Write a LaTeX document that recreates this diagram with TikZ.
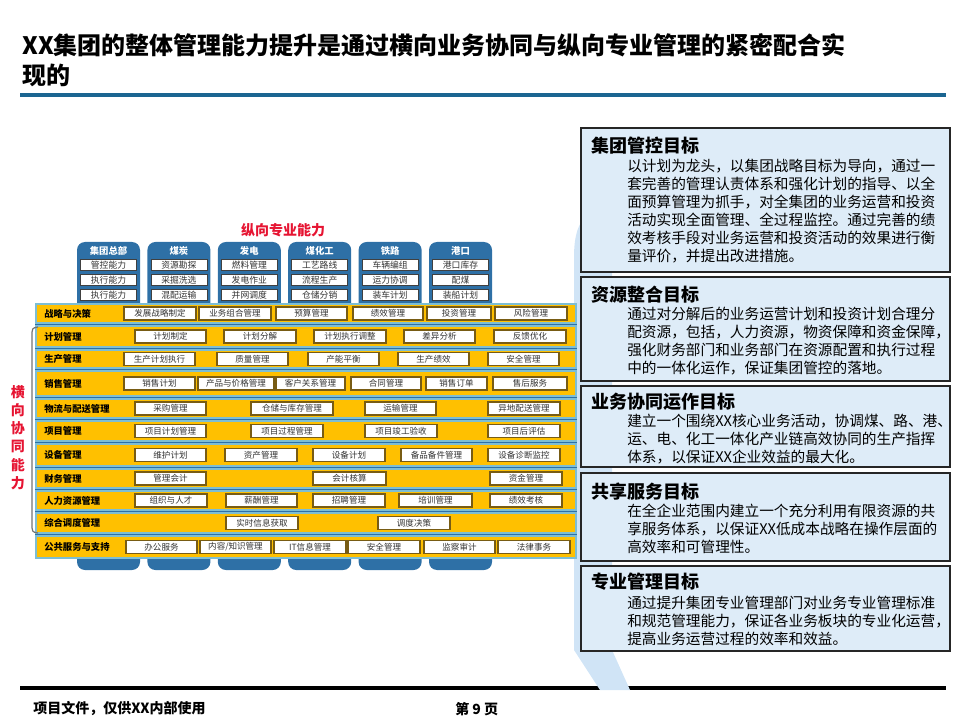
\documentclass[tikz,border=0pt]{standalone}
\usepackage{fontspec}
\setmainfont{Noto Sans CJK SC}
\definecolor{colblue}{RGB}{46,112,166}
\definecolor{amber}{RGB}{255,192,0}
\definecolor{rowedge}{RGB}{125,190,212}
\definecolor{celledge}{RGB}{120,92,20}
\definecolor{goalfill}{RGB}{222,236,248}
\definecolor{bgshape}{RGB}{208,228,246}
\definecolor{rulblue}{RGB}{27,101,145}
\definecolor{redtxt}{RGB}{230,20,50}
\newcommand\mkcell[5]{\pgfmathsetmacro\cw{(#3-#2)*0.75}\pgfmathsetmacro\cxx{(#2+#3)/2}\node[cell, minimum width=\cw pt] (#1) at (\cxx,#4) {#5};}
\newcommand\mkrow[4]{\draw[rowbar] (36,#2) rectangle (576,#3);\pgfmathsetmacro\cyy{(#2+#3)/2}\node[rowlabel] (#1) at (44,\cyy) {#4};}
\newcommand\goallines[3]{\foreach \t [count=\k from 0] in {#3} {\node[goalbody] (#1\k) at (627,{#2+18*\k}) {\t};}}
\begin{document}
\begin{tikzpicture}[x=0.75pt,y=-0.75pt,
  hdr/.style={anchor=west, inner sep=0, font=\bfseries\fontsize{18}{20}\selectfont},
  foot/.style={anchor=west, inner sep=0, font=\bfseries\fontsize{10.5}{12}\selectfont},
  colhead/.style={inner sep=0, text=white, font=\bfseries\fontsize{7}{8}\selectfont},
  subcell/.style={draw=black!75, fill=white, line width=0.6pt, minimum width=42pt, minimum height=8.25pt, inner sep=0, font=\fontsize{6.6}{7}\selectfont, text=black!80},
  rowbar/.style={fill=amber, draw=rowedge, line width=1pt},
  rowlabel/.style={anchor=west, inner sep=0, font=\bfseries\fontsize{7}{8}\selectfont},
  cell/.style={draw=celledge, fill=white, line width=0.8pt, minimum height=9.75pt, inner sep=0, font=\fontsize{6.4}{7}\selectfont, text=black!80},
  goal/.style={draw=black!85, fill=goalfill, line width=0.8pt},
  goaltitle/.style={anchor=west, inner sep=0, font=\bfseries\fontsize{13.5}{16}\selectfont},
  goalbody/.style={anchor=west, inner sep=0, font=\fontsize{11}{13}\selectfont},
  redlab/.style={inner sep=0, text=redtxt, font=\bfseries\fontsize{10.5}{12}\selectfont},
  bracket/.style={draw=black!55, line width=0.9pt}
]
\useasboundingbox (0,0) rectangle (960,720);
% header
\node[hdr] (t1) at (22,45) {XX集团的整体管理能力提升是通过横向业务协同与纵向专业管理的紧密配合实};
\node[hdr] (t2) at (22,75) {现的};
\fill[rulblue] (20,93) rectangle (946,97);
% footer
\fill[black] (20,686) rectangle (946,690);
\node[foot] (f1) at (33,709) {项目文件，仅供XX内部使用};
\node[foot] (f2) at (455,709) {第 9 页};

% background light shape behind goal boxes
\fill[bgshape] (592,212) .. controls (578,220) and (574,235) .. (574,258) -- (574,650) -- (600,690) -- (630,690) -- (612,650) -- (612,258) -- (640,212) -- cycle;

% vertical label
\node[redlab] (vlab) at (283,230) {纵向专业能力};

% columns
\foreach \n/\h/\a/\b/\c [count=\i from 0] in {jt/集团总部/管控能力/执行能力/执行能力, mt/煤炭/资源勘探/采掘洗选/混配运输, fd/发电/燃料管理/发电作业/并网调度, mh/煤化工/工艺路线/流程生产/仓储分销, tl/铁路/车辆编组/运力协调/装车计划, gk/港口/港口库存/配煤/装船计划}{
  \pgfmathsetmacro\cx{77+70.4*\i+31.5}
  \fill[colblue, rounded corners=6pt] ({\cx-31.5},242) rectangle ({\cx+31.5},570);
  \node[colhead] (\n h) at (\cx,251) {\h};
  \node[subcell] (\n a) at (\cx,265) {\a};
  \node[subcell] (\n b) at (\cx,280) {\b};
  \node[subcell] (\n c) at (\cx,295) {\c};
}

% backing strip behind rows
\fill[colblue] (35,320) rectangle (577,558);

% rows
\mkrow{r1}{304}{323}{战略与决策}
\mkcell{r1a}{124}{196}{313.5}{发展战略制定}
\mkcell{r1b}{199}{271}{313.5}{业务组合管理}
\mkcell{r1c}{276}{347}{313.5}{预算管理}
\mkcell{r1d}{353}{423}{313.5}{绩效管理}
\mkcell{r1e}{427}{491}{313.5}{投资管理}
\mkcell{r1f}{495}{567}{313.5}{风险管理}

\mkrow{r2}{326}{347}{计划管理}
\mkcell{r2a}{135}{206}{336.5}{计划制定}
\mkcell{r2b}{224}{296}{336.5}{计划分解}
\mkcell{r2c}{314}{386}{336.5}{计划执行调整}
\mkcell{r2d}{404}{475}{336.5}{差异分析}
\mkcell{r2e}{494}{566}{336.5}{反馈优化}

\mkrow{r3}{350}{368}{生产管理}
\mkcell{r3a}{124}{195}{359}{生产计划执行}
\mkcell{r3b}{217}{288}{359}{质量管理}
\mkcell{r3c}{308}{379}{359}{产能平衡}
\mkcell{r3d}{398}{469}{359}{生产绩效}
\mkcell{r3e}{488}{559}{359}{安全管理}

\mkrow{r4}{371}{396}{销售管理}
\mkcell{r4a}{124}{195}{383.5}{销售计划}
\mkcell{r4b}{198}{274}{383.5}{产品与价格管理}
\mkcell{r4c}{276}{345}{383.5}{客户关系管理}
\mkcell{r4d}{351}{421}{383.5}{合同管理}
\mkcell{r4e}{426}{487}{383.5}{销售订单}
\mkcell{r4f}{493}{567}{383.5}{售后服务}

\mkrow{r5}{399}{418}{物流与配送管理}
\mkcell{r5a}{135}{206}{408.5}{采购管理}
\mkcell{r5b}{251}{333}{408.5}{仓储与库存管理}
\mkcell{r5c}{365}{436}{408.5}{运输管理}
\mkcell{r5d}{488}{560}{408.5}{异地配送管理}

\mkrow{r6}{421}{441}{项目管理}
\mkcell{r6a}{135}{206}{431}{项目计划管理}
\mkcell{r6b}{251}{323}{431}{项目过程管理}
\mkcell{r6c}{365}{437}{431}{项目竣工验收}
\mkcell{r6d}{488}{560}{431}{项目后评估}

\mkrow{r7}{444}{466}{设备管理}
\mkcell{r7a}{135}{206}{455}{维护计划}
\mkcell{r7b}{225}{297}{455}{资产管理}
\mkcell{r7c}{313}{385}{455}{设备计划}
\mkcell{r7d}{401}{472}{455}{备品备件管理}
\mkcell{r7e}{488}{560}{455}{设备诊断监控}

\mkrow{r8}{469}{488}{财务管理}
\mkcell{r8a}{135}{206}{478.5}{管理会计}
\mkcell{r8b}{313}{386}{478.5}{会计核算}
\mkcell{r8c}{490}{562}{478.5}{资金管理}

\mkrow{r9}{491}{510}{人力资源管理}
\mkcell{r9a}{135}{207}{500.5}{组织与人才}
\mkcell{r9b}{226}{297}{500.5}{薪酬管理}
\mkcell{r9c}{313}{385}{500.5}{招聘管理}
\mkcell{r9d}{399}{472}{500.5}{培训管理}
\mkcell{r9e}{490}{562}{500.5}{绩效考核}

\mkrow{r10}{513}{533}{综合调度管理}
\mkcell{r10a}{226}{298}{523}{实时信息获取}
\mkcell{r10b}{378}{450}{523}{调度决策}

\mkrow{r11}{536}{558}{公共服务与支持}
\mkcell{r11a}{126}{197}{547}{办公服务}
\mkcell{r11b}{200}{271}{547}{内容/知识管理}
\mkcell{r11c}{274}{346}{547}{IT信息管理}
\mkcell{r11d}{348}{420}{547}{安全管理}
\mkcell{r11e}{424}{495}{547}{监察审计}
\mkcell{r11f}{498}{570}{547}{法律事务}

% horizontal bracket and label
\draw[bracket] (38,327) .. controls (32,328) .. (32,337) -- (32,523) .. controls (32,532) .. (38,533);
\foreach \ch [count=\k from 0] in {横,向,协,同,能,力}{
  \node[redlab] (h\k) at (18,{392+18.3*\k}) {\ch};
}

% goal boxes
\draw[goal] (581,128) rectangle (950,272);
\node[goaltitle] (g1) at (591,146) {集团管控目标};
\goallines{g1l}{166}{以计划为龙头，以集团战略目标为导向，通过一,套完善的管理认责体系和强化计划的指导、以全,面预算管理为抓手，对全集团的业务运营和投资,活动实现全面管理、全过程监控。通过完善的绩,效考核手段对业务运营和投资活动的效果进行衡,量评价，并提出改进措施。}

\draw[goal] (581,277) rectangle (950,381);
\node[goaltitle] (g2) at (591,295) {资源整合目标};
\goallines{g2l}{314}{通过对分解后的业务运营计划和投资计划合理分,配资源，包括，人力资源，物资保障和资金保障，,强化财务部门和业务部门在资源配置和执行过程,中的一体化运作，保证集团管控的落地。}

\draw[goal] (581,386) rectangle (950,467);
\node[goaltitle] (g3) at (591,402) {业务协同运作目标};
\goallines{g3l}{421}{建立一个围绕XX核心业务活动，协调煤、路、港、,运、电、化工一体化产业链高效协同的生产指挥,体系，以保证XX企业效益的最大化。}

\draw[goal] (581,473) rectangle (950,561);
\node[goaltitle] (g4) at (591,492) {共享服务目标};
\goallines{g4l}{511}{在全企业范围内建立一个充分利用有限资源的共,享服务体系，以保证XX低成本战略在操作层面的,高效率和可管理性。}

\draw[goal] (581,566) rectangle (950,651);
\node[goaltitle] (g5) at (591,582) {专业管理目标};
\goallines{g5l}{603}{通过提升集团专业管理部门对业务专业管理标准,和规范管理能力，保证各业务板块的专业化运营，,提高业务运营过程的效率和效益。}
\end{tikzpicture}
\end{document}
